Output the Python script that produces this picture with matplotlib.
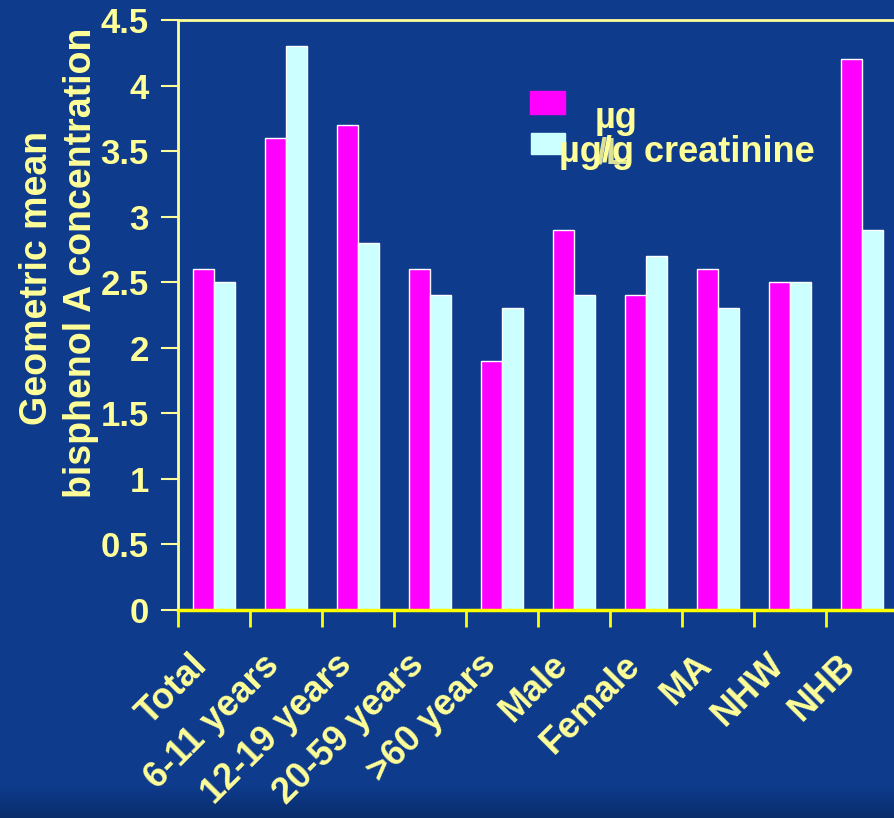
import matplotlib
matplotlib.use("Agg")
import matplotlib.pyplot as plt
import numpy as np
from matplotlib.patches import Rectangle
from matplotlib.colors import LinearSegmentedColormap
from matplotlib.transforms import ScaledTranslation

# Geometric mean urinary bisphenol A concentrations by group
categories = ["Total", "6-11 years", "12-19 years", "20-59 years", ">60 years",
              "Male", "Female", "MA", "NHW", "NHB"]
ug_per_l = [2.6, 3.6, 3.7, 2.6, 1.9, 2.9, 2.4, 2.6, 2.5, 4.2]
ug_per_g_creat = [2.5, 4.3, 2.8, 2.4, 2.3, 2.4, 2.7, 2.3, 2.5, 2.9]
yticks = [0, 0.5, 1, 1.5, 2, 2.5, 3, 3.5, 4, 4.5]
ytick_labels = ["0", "0.5", "1", "1.5", "2", "2.5", "3", "3.5", "4", "4.5"]

BG = "#0E3B8C"
TXT = "#FFFF99"
MAG = "#FF00FF"
CYN = "#CCFFFF"
FONT = "Liberation Sans"

W, H = 894, 818
fig = plt.figure(figsize=(W / 100, H / 100), dpi=100)
fig.patch.set_facecolor(BG)

# slight darkening towards the bottom edge of the slide
bg = fig.add_axes([0, 0, 1, 1], zorder=-10)
rows = np.arange(H)
grad = np.clip((rows - 785) / 33.0, 0, 1).reshape(-1, 1)
cmap = LinearSegmentedColormap.from_list("bgfade", [BG, "#0A2D6C"])
bg.imshow(grad, aspect="auto", cmap=cmap, extent=[0, 1, 0, 1], vmin=0, vmax=1)
bg.set_axis_off()


def fx(px):
    return px / W


def fy(py):
    return 1 - py / H


ax = fig.add_axes([fx(178), fy(610), 720 / W, 590 / H])
ax.set_facecolor("none")

x = np.arange(len(categories)) + 0.5
bw = 0.285
ax.bar(x - bw / 2, ug_per_l, width=bw, color=MAG, edgecolor="white", linewidth=1)
ax.bar(x + bw / 2, ug_per_g_creat, width=bw, color=CYN, edgecolor="white", linewidth=1)

ax.set_xlim(0, 10)
ax.set_ylim(0, 4.5)

for side in ["top", "left"]:
    ax.spines[side].set_color(TXT)
    ax.spines[side].set_linewidth(2)
ax.spines["right"].set_visible(False)
ax.spines["bottom"].set_color("#FFFF00")
ax.spines["bottom"].set_linewidth(2.5)
ax.spines["bottom"].set_zorder(5)

ax.set_yticks(yticks)
ax.set_yticklabels(ytick_labels, fontsize=25, fontweight="bold", family=FONT, color=TXT)
ax.tick_params(axis="y", colors=TXT, length=12, width=1.5, pad=9)

ax.set_xticks(np.arange(0, 11), minor=True)
ax.set_xticks(x)
ax.set_xticklabels(categories, fontsize=26, fontweight="bold", family=FONT,
                   color=TXT, rotation=45, ha="right", va="top",
                   rotation_mode="anchor")
ax.tick_params(axis="x", which="major", length=0, pad=27)
ax.tick_params(axis="x", which="minor", length=12, width=2, color="#FFFF00")
shift = ScaledTranslation(-24 / 100, 0, fig.dpi_scale_trans)
for lab in ax.get_xticklabels():
    lab.set_transform(lab.get_transform() + shift)

# y-axis title, two lines
fig.text(fx(47), fy(278), "Geometric mean", rotation=90, rotation_mode="anchor",
         ha="center", va="baseline", fontsize=27, fontweight="bold",
         family=FONT, color=TXT)
fig.text(fx(91), fy(263), "bisphenol A concentration", rotation=90,
         rotation_mode="anchor", ha="center", va="baseline", fontsize=27,
         fontweight="bold", family=FONT, color=TXT)

# legend
fig.patches.append(Rectangle((fx(530), fy(114)), 35 / W, 23 / H, color=MAG,
                             transform=fig.transFigure, figure=fig))
fig.patches.append(Rectangle((fx(531), fy(154)), 34 / W, 21 / H, color=CYN,
                             transform=fig.transFigure, figure=fig))
fig.text(fx(595), fy(128), "µg", fontsize=26, fontweight="bold", family=FONT,
         color=TXT, va="baseline", ha="left")
fig.text(fx(559), fy(162), "µg/g creatinine", fontsize=26, fontweight="bold",
         family=FONT, color=TXT, va="baseline", ha="left")
fig.text(fx(597), fy(164), "/L", fontsize=26, fontweight="bold", family=FONT,
         color=TXT, va="baseline", ha="left", alpha=0.85)

fig.savefig("out.png", dpi=100, facecolor=BG)
